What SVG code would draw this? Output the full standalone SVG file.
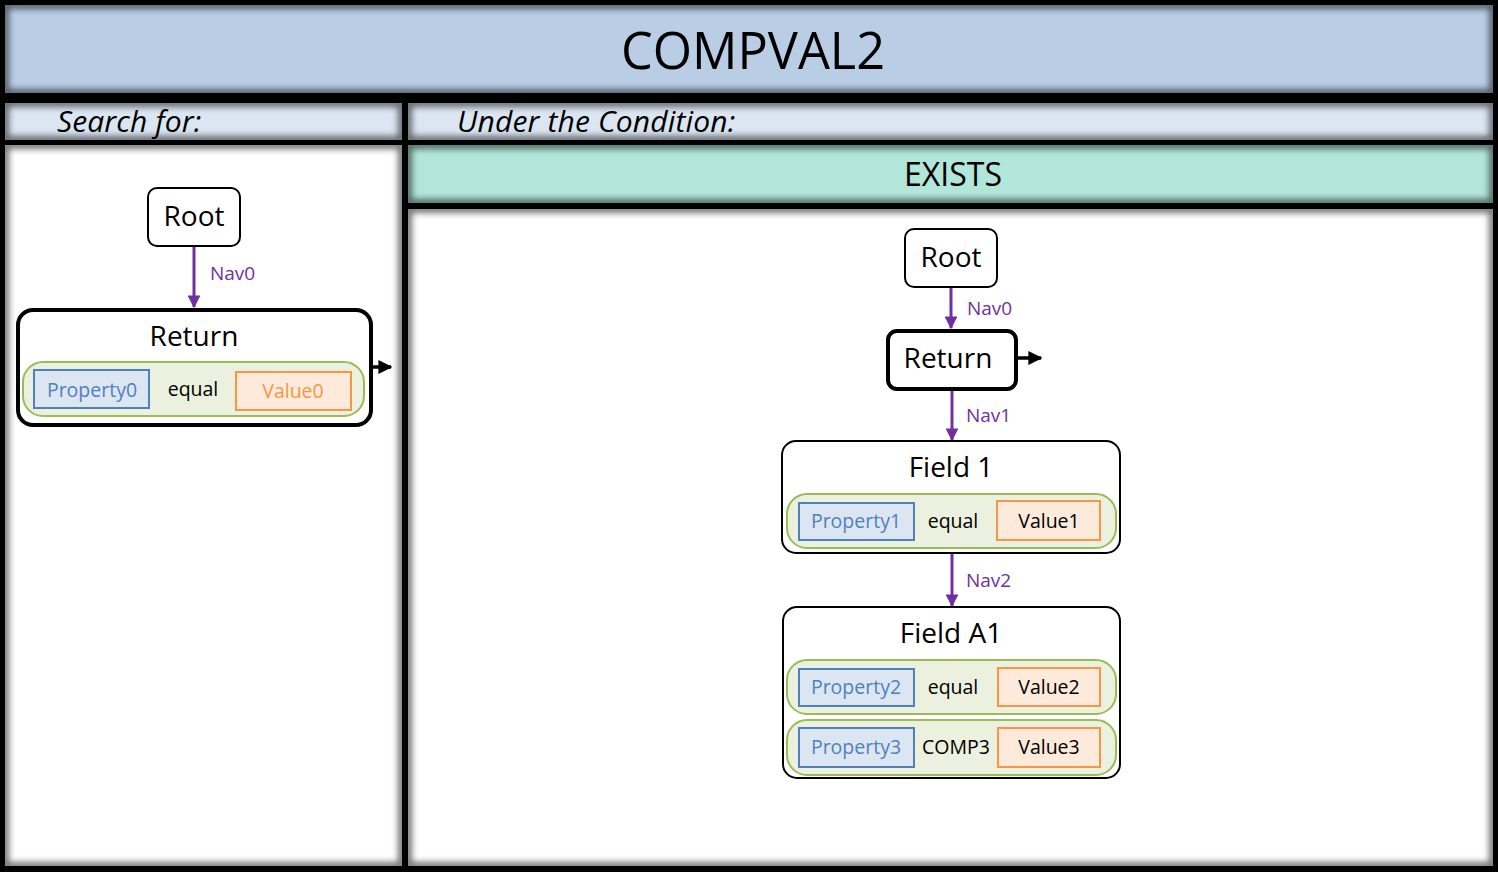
<svg xmlns="http://www.w3.org/2000/svg" width="1498" height="872" viewBox="0 0 1498 872">
<defs>
<style>
text{font-family:"Open Sans","Noto Sans","Liberation Sans",sans-serif;}
.node{fill:#fff;stroke:#000;stroke-width:2;}
.nodeB{fill:#fff;stroke:#000;stroke-width:4;}
.cond{fill:#EBF1DE;stroke:#9BBB59;stroke-width:2;}
.prop{fill:#DCE6F2;stroke:#4F81BD;stroke-width:2;}
.val{fill:#FDEADA;stroke:#F79646;stroke-width:2;}
.t28{font-size:28px;fill:#000;text-anchor:middle;}
.t18{font-size:19.5px;fill:#000;text-anchor:middle;}
.pt{font-size:19.5px;fill:#4F81BD;text-anchor:middle;}
.nav{font-size:19px;fill:#7030A0;}
.edge{stroke:#7030A0;stroke-width:3;fill:none;}
.out{stroke:#000;stroke-width:3.5;fill:none;}
.hdr{font-size:30px;font-style:italic;fill:#000;}
.shade{fill:none;stroke:#000;stroke-width:8;opacity:0.55;filter:url(#blur);}
</style>
<filter id="blur" x="-5%" y="-5%" width="110%" height="110%"><feGaussianBlur stdDeviation="3"/></filter>
<marker id="ap" viewBox="0 0 10 10" refX="9" refY="5" markerWidth="4.3" markerHeight="4.3" orient="auto" markerUnits="strokeWidth"><path d="M0,0 L10,5 L0,10 z" fill="#7030A0"/></marker>
<marker id="ak" viewBox="0 0 10 10" refX="9" refY="5" markerWidth="4" markerHeight="4" orient="auto" markerUnits="strokeWidth"><path d="M0,0 L10,5 L0,10 z" fill="#000"/></marker>
<clipPath id="c1"><rect x="5" y="5" width="1488" height="88"/></clipPath>
<clipPath id="c2"><rect x="5" y="103" width="397" height="37"/></clipPath>
<clipPath id="c3"><rect x="408" y="103" width="1085" height="37"/></clipPath>
<clipPath id="c4"><rect x="408" y="145" width="1085" height="58"/></clipPath>
<clipPath id="c5"><rect x="5" y="145" width="397" height="721"/></clipPath>
<clipPath id="c6"><rect x="408" y="209" width="1085" height="657"/></clipPath>
</defs>
<rect x="0" y="0" width="1498" height="872" fill="#000"/>
<g id="panels">
<rect x="5" y="5" width="1488" height="88" fill="#B9CDE5"/>
<rect x="5" y="5" width="1488" height="88" class="shade" clip-path="url(#c1)"/>
<rect x="5" y="103" width="397" height="37" fill="#DCE6F2"/>
<rect x="5" y="103" width="397" height="37" class="shade" clip-path="url(#c2)"/>
<rect x="408" y="103" width="1085" height="37" fill="#DCE6F2"/>
<rect x="408" y="103" width="1085" height="37" class="shade" clip-path="url(#c3)"/>
<rect x="408" y="145" width="1085" height="58" fill="#B3E6DA"/>
<rect x="408" y="145" width="1085" height="58" class="shade" clip-path="url(#c4)"/>
<rect x="5" y="145" width="397" height="721" fill="#fff"/>
<rect x="5" y="145" width="397" height="721" class="shade" clip-path="url(#c5)"/>
<rect x="408" y="209" width="1085" height="657" fill="#fff"/>
<rect x="408" y="209" width="1085" height="657" class="shade" clip-path="url(#c6)"/>
<text x="753" y="69" style="font-size:50.5px;text-anchor:middle;">COMPVAL2</text>
<text x="57" y="132" class="hdr" style="letter-spacing:0.1px">Search for:</text>
<text x="457" y="132" class="hdr" style="letter-spacing:0.15px">Under the Condition:</text>
<text x="953" y="186" style="font-size:32px;text-anchor:middle;">EXISTS</text>
</g>
<g id="connectors">
<line x1="194" y1="247" x2="194" y2="307" class="edge" marker-end="url(#ap)"/>
<text x="210" y="280" class="nav">Nav0</text>
<line x1="371" y1="367" x2="391" y2="367" class="out" marker-end="url(#ak)"/>
<line x1="951" y1="288" x2="951" y2="328" class="edge" marker-end="url(#ap)"/>
<text x="967" y="315" class="nav">Nav0</text>
<line x1="1017" y1="358" x2="1041" y2="358" class="out" marker-end="url(#ak)"/>
<line x1="952" y1="390" x2="952" y2="440" class="edge" marker-end="url(#ap)"/>
<text x="966" y="422" class="nav">Nav1</text>
<line x1="952" y1="554" x2="952" y2="606" class="edge" marker-end="url(#ap)"/>
<text x="966" y="587" class="nav">Nav2</text>
</g>
<g id="root-left">
<rect x="148" y="188" width="92" height="58" rx="9" class="node"/>
<text x="194" y="226" class="t28">Root</text>
</g>
<g id="return-left">
<rect x="18" y="310" width="353" height="115" rx="15" class="nodeB"/>
<text x="194" y="346" class="t28">Return</text>
<rect x="23" y="362" width="341" height="54" rx="20" class="cond"/>
<rect x="34" y="370" width="115" height="38" class="prop"/>
<text x="92" y="397" class="pt">Property0</text>
<text x="193" y="396" class="t18">equal</text>
<rect x="236" y="372" width="115" height="38" class="val"/>
<text x="293" y="398" class="t18" style="fill:#F79646">Value0</text>
</g>
<g id="root-right">
<rect x="905" y="229" width="92" height="58" rx="9" class="node"/>
<text x="951" y="267" class="t28">Root</text>
</g>
<g id="return-right">
<rect x="888" y="331" width="128" height="58" rx="9" class="nodeB"/>
<text x="948" y="368" class="t28">Return</text>
</g>
<g id="field1">
<rect x="782" y="441" width="338" height="112" rx="14" class="node"/>
<text x="951" y="477" class="t28">Field 1</text>
<rect x="787" y="494" width="329" height="54" rx="20" class="cond"/>
<rect x="799" y="503" width="115" height="37" class="prop"/>
<text x="856" y="528" class="pt">Property1</text>
<text x="953" y="528" class="t18">equal</text>
<rect x="997" y="501" width="103" height="39" class="val"/>
<text x="1049" y="528" class="t18">Value1</text>
</g>
<g id="fieldA1">
<rect x="783" y="607" width="337" height="171" rx="14" class="node"/>
<text x="951" y="643" class="t28">Field A1</text>
<rect x="787" y="660" width="329" height="54" rx="20" class="cond"/>
<rect x="799" y="669" width="115" height="37" class="prop"/>
<text x="856" y="694" class="pt">Property2</text>
<text x="953" y="694" class="t18">equal</text>
<rect x="998" y="668" width="102" height="38" class="val"/>
<text x="1049" y="694" class="t18">Value2</text>
<rect x="787" y="720" width="329" height="55" rx="20" class="cond"/>
<rect x="799" y="728" width="115" height="39" class="prop"/>
<text x="856" y="754" class="pt">Property3</text>
<text x="956" y="754" class="t18">COMP3</text>
<rect x="998" y="728" width="102" height="39" class="val"/>
<text x="1049" y="754" class="t18">Value3</text>
</g>
</svg>
